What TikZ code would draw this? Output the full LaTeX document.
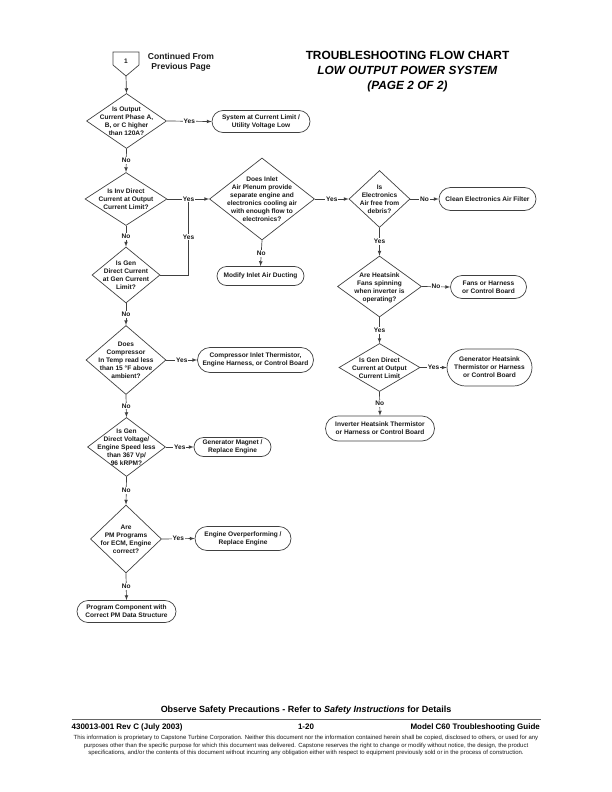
\documentclass[tikz,border=0pt]{standalone}
\usepackage{fontspec}
\setmainfont{Liberation Sans}
\usepackage{tikz}
\usetikzlibrary{arrows,positioning,shapes.geometric,shapes.misc}
\newcommand{\qtext}[1]{\makebox[0pt]{\smash{\raisebox{-3pt}{\begin{tabular}[c]{@{}c@{}}#1\end{tabular}}}}}
\begin{document}
\begin{tikzpicture}[x=1bp,y=-1bp]
\tikzstyle{every node}=[font=\fontsize{6.6}{8}\selectfont\bfseries,text=black!90]
\tikzstyle{query}=[diamond,draw=black!75,line width=0.7pt,inner sep=0pt,aspect=1]
\tikzstyle{result}=[rounded rectangle,draw=black!75,line width=0.7pt,inner sep=0pt,align=center]
\tikzstyle{link}=[draw=black!75,line width=0.7pt,-latex]
\tikzstyle{plainlink}=[draw=black!75,line width=0.7pt]
\tikzstyle{tag}=[fill=white,inner sep=1pt]
\tikzstyle{heading}=[font=\fontsize{11.9}{15}\selectfont\bfseries,align=center,text=black]
\tikzstyle{footer}=[font=\fontsize{8}{10}\selectfont\bfseries,text=black,inner sep=0pt]
\useasboundingbox (0,0) rectangle (612,792);
% page 1 connector
\draw[plainlink] (113,52) -- (139,52) -- (139,65) -- (126,76) -- (113,65) -- cycle;
\node (start) at (126,61) {1};
\coordinate (starttip) at (126,76);
\node[align=center,font=\fontsize{8.6}{10.4}\selectfont\bfseries] (contd) at (181,62) {Continued From\\Previous Page};
\node[heading] (title) at (407.5,72) {TROUBLESHOOTING FLOW CHART\\\textit{LOW OUTPUT POWER SYSTEM}\\\textit{(PAGE 2 OF 2)}};
% left column
\node[query,minimum width=80bp,minimum height=55bp] (phase) at (126.5,121) {\qtext{Is Output\\Current Phase A,\\B, or C higher\\than 120A?}};
\node[query,minimum width=82bp,minimum height=53bp] (inv) at (126,199) {\qtext{Is Inv Direct\\Current at Output\\Current Limit?}};
\node[query,minimum width=68bp,minimum height=56bp] (gen) at (126,275) {\qtext{Is Gen\\Direct Current\\at Gen Current\\Limit?}};
\node[query,minimum width=80bp,minimum height=69bp] (comp) at (126,360) {\qtext{Does\\Compressor\\In Temp read less\\than 15 °F above\\ambient?}};
\node[query,minimum width=78bp,minimum height=59bp] (volt) at (126.5,447) {\qtext{Is Gen\\Direct Voltage/\\Engine Speed less\\than 367 Vp/\\96 kRPM?}};
\node[query,minimum width=71bp,minimum height=68bp] (prog) at (126,539) {\qtext{Are\\PM Programs\\for ECM, Engine\\correct?}};
\node[result,minimum width=99bp,minimum height=22bp] (pmdata) at (126.5,611.5) {Program Component with\\Correct PM Data Structure};
\node[result,minimum width=98bp,minimum height=22bp] (limit) at (261,121.5) {System at Current Limit /\\Utility Voltage Low};
\node[result,minimum width=116bp,minimum height=25bp] (thermistor) at (255.5,360) {Compressor Inlet Thermistor,\\Engine Harness, or Control Board};
\node[result,minimum width=77bp,minimum height=19bp] (magnet) at (232.5,447) {Generator Magnet /\\Replace Engine};
\node[result,minimum width=96bp,minimum height=24bp] (over) at (243,538.5) {Engine Overperforming /\\Replace Engine};
% middle column
\node[query,minimum width=105bp,minimum height=82bp] (inlet) at (262,199) {\qtext{Does Inlet\\Air Plenum provide\\separate engine and\\electronics cooling air\\with enough flow to\\electronics?}};
\node[result,minimum width=87bp,minimum height=19bp] (duct) at (260.5,276) {Modify Inlet Air Ducting};
\coordinate (joint) at (188.5,199);
% right column
\node[query,minimum width=61bp,minimum height=57bp] (debris) at (379.5,199) {\qtext{Is\\Electronics\\Air free from\\debris?}};
\node[query,minimum width=84bp,minimum height=61bp] (fans) at (379.5,286.5) {\qtext{Are Heatsink\\Fans spinning\\when inverter is\\operating?}};
\node[query,minimum width=81bp,minimum height=48bp] (heat) at (379.5,367.5) {\qtext{Is Gen Direct\\Current at Output\\Current Limit}};
\node[result,minimum width=97bp,minimum height=23bp] (filter) at (487.5,199) {Clean Electronics Air Filter};
\node[result,minimum width=76bp,minimum height=23bp] (harness) at (488.5,287) {Fans or Harness\\or Control Board};
\node[result,minimum width=85bp,minimum height=37bp] (genboard) at (489.5,367.5) {Generator Heatsink\\Thermistor or Harness\\or Control Board};
\node[result,minimum width=109bp,minimum height=25bp] (sink) at (380,428.5) {Inverter Heatsink Thermistor\\or Harness or Control Board};
% connectors
\draw[link] (starttip) -- (phase.north);
\draw[link] (phase.east) -- node[tag] {Yes} (limit.west);
\draw[link] (phase.south) -- node[tag] {No} (inv.north);
\draw[link] (inv.south) -- node[tag] {No} (gen.north);
\draw[link] (gen.south) -- node[tag] {No} (comp.north);
\draw[link] (comp.south) -- node[tag] {No} (volt.north);
\draw[link] (volt.south) -- node[tag] {No} (prog.north);
\draw[link] (prog.south) -- node[tag] {No} (pmdata.north);
\draw[link] (inv.east) -- (inlet.west);
\draw[plainlink] (gen.east) -| node[tag,pos=0.75] {Yes} (joint);
\node[tag] (invyes) at (joint) {Yes};
\draw[link] (comp.east) -- node[tag] {Yes} (thermistor.west);
\draw[link] (volt.east) -- node[tag] {Yes} (magnet.west);
\draw[link] (prog.east) -- node[tag] {Yes} (over.west);
\draw[link] (inlet.south) -- node[tag] {No} (duct.north);
\draw[link] (inlet.east) -- node[tag] {Yes} (debris.west);
\draw[link] (debris.east) -- node[tag] {No} (filter.west);
\draw[link] (debris.south) -- node[tag] {Yes} (fans.north);
\draw[link] (fans.east) -- node[tag] {No} (harness.west);
\draw[link] (fans.south) -- node[tag] {Yes} (heat.north);
\draw[link] (heat.east) -- node[tag] {Yes} (genboard.west);
\draw[link] (heat.south) -- node[tag] {No} (sink.north);
% page footer
\node[footer,font=\fontsize{9}{10}\selectfont\bfseries] (observe) at (306,710.5) {Observe Safety Precautions - Refer to \textit{Safety Instructions} for Details};
\draw[draw=black!60,line width=0.7pt] (71.5,719.5) -- (541,719.5);
\node[footer,anchor=west] (docno) at (71.5,727) {430013-001 Rev C (July 2003)};
\node[footer] (pageno) at (306,727) {1-20};
\node[footer,anchor=east] (guide) at (540,727) {Model C60 Troubleshooting Guide};
\node[align=center,font=\fontsize{6}{7.65}\selectfont,inner sep=0pt] (notice) at (306,745.5) {This information is proprietary to Capstone Turbine Corporation. Neither this document nor the information contained herein shall be copied, disclosed to others, or used for any\\purposes other than the specific purpose for which this document was delivered. Capstone reserves the right to change or modify without notice, the design, the product\\specifications, and/or the contents of this document without incurring any obligation either with respect to equipment previously sold or in the process of construction.};
\end{tikzpicture}
\end{document}
